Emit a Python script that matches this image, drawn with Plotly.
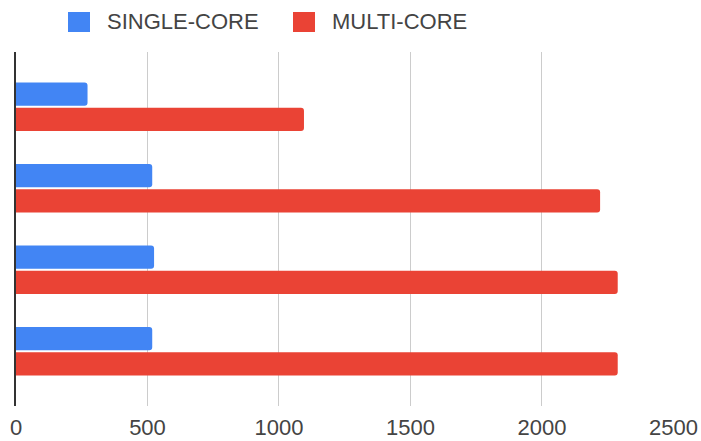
import plotly.graph_objects as go

categories = ["Device 1", "Device 2", "Device 3", "Device 4"]
series_names = ["SINGLE-CORE", "MULTI-CORE"]
single_core = [272, 518, 525, 518]
multi_core = [1095, 2221, 2288, 2288]
tick_values = [0, 500, 1000, 1500, 2000, 2500]
tick_labels = ["0", "500", "1000", "1500", "2000", "2500"]

colors = ["#4285F4", "#EA4335"]
font_family = "Liberation Sans, Arial, sans-serif"

fig = go.Figure()
for name, vals, col in zip(series_names, [single_core, multi_core], colors):
    fig.add_trace(go.Bar(y=categories, x=vals, name=name, orientation="h",
                         marker=dict(color=col, line=dict(width=0)),
                         showlegend=False))

# custom legend (big squares like the reference)
legend_x = [52, 277]
shapes = []
annotations = []
for i, (name, col) in enumerate(zip(series_names, colors)):
    x0 = legend_x[i]
    shapes.append(dict(type="rect", xref="paper", yref="paper",
                       xsizemode="pixel", ysizemode="pixel", xanchor=0, yanchor=1,
                       x0=x0, x1=x0 + 22, y0=40, y1=20,
                       fillcolor=col, line=dict(width=0), layer="above"))
    annotations.append(dict(text=name, xref="paper", yref="paper", x=0, y=1,
                            xanchor="left", yanchor="middle", showarrow=False,
                            xshift=x0 + 36.5, yshift=31,
                            font=dict(size=22, color="#444444", family=font_family)))

fig.update_layout(
    width=701, height=441,
    margin=dict(l=16, r=27, t=52, b=35),
    paper_bgcolor="white", plot_bgcolor="white",
    barmode="group", bargap=0.38, bargroupgap=0.08, barcornerradius=3,
    shapes=shapes, annotations=annotations,
    font=dict(family=font_family, size=22, color="#444444"),
    xaxis=dict(range=[0, 2502], tickvals=tick_values, ticktext=tick_labels,
               showgrid=True, gridcolor="#cccccc", gridwidth=1.3,
               zeroline=False, showline=False, ticks="", automargin=False,
               ticklabelstandoff=6,
               tickfont=dict(size=22, color="#444444")),
    yaxis=dict(range=[3.67, -0.67], showticklabels=False, showgrid=False,
               zeroline=False, showline=True, linecolor="#333333", linewidth=1.5,
               ticks="", automargin=False),
)

fig.write_html("out.html")
